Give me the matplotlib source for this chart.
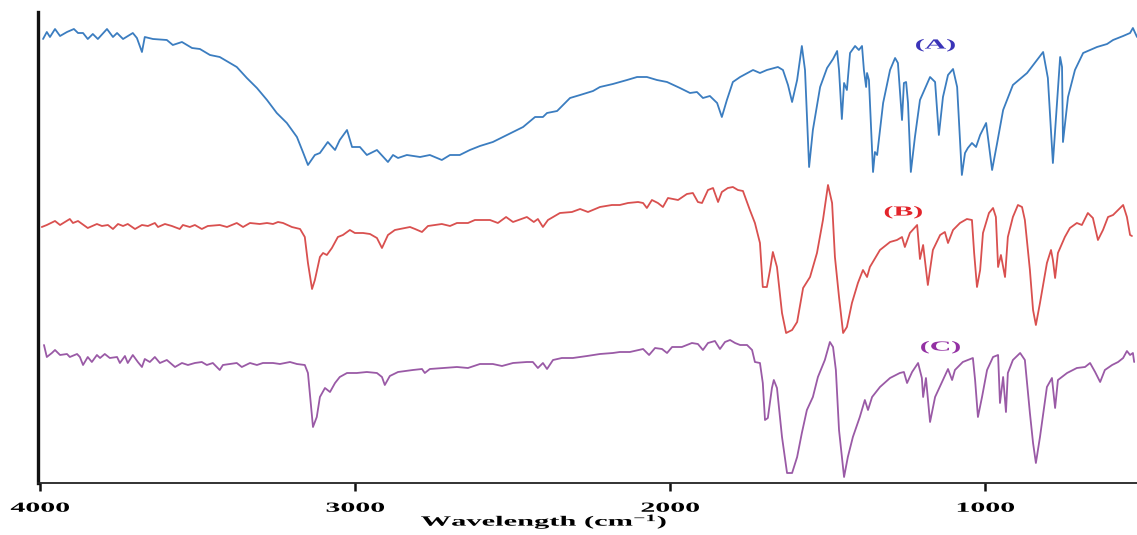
import matplotlib
matplotlib.use("Agg")
import matplotlib.pyplot as plt
from matplotlib.patheffects import AbstractPathEffect
from matplotlib.transforms import Affine2D

# ---------------- spectra (wavenumber in cm-1, transmittance in arbitrary units) ----------------
wn_a = [3990, 3978, 3968, 3952, 3936, 3914, 3892, 3879, 3863, 3848, 3832, 3816, 3787, 3768,
        3755, 3736, 3705, 3692, 3676, 3667, 3641, 3597, 3578, 3549, 3517, 3492, 3460, 3429,
        3397, 3375, 3343, 3311, 3279, 3248, 3216, 3184, 3165, 3149, 3127, 3111, 3086, 3063,
        3048, 3025, 3009, 2984, 2962, 2930, 2895, 2879, 2863, 2835, 2793, 2762, 2724, 2698,
        2667, 2635, 2603, 2562, 2517, 2466, 2428, 2403, 2390, 2358, 2317, 2285, 2244, 2222,
        2181, 2136, 2104, 2073, 2041, 2009, 1968, 1936, 1914, 1895, 1873, 1850, 1835, 1819,
        1800, 1777, 1736, 1714, 1692, 1657, 1641, 1625, 1612, 1596, 1581, 1571, 1558, 1546,
        1523, 1501, 1482, 1469, 1463, 1454, 1447, 1438, 1428, 1412, 1400, 1390, 1384, 1377,
        1374, 1368, 1355, 1349, 1342, 1323, 1301, 1285, 1276, 1263, 1257, 1250, 1244, 1235,
        1222, 1206, 1174, 1158, 1146, 1133, 1117, 1101, 1088, 1073, 1063, 1054, 1041, 1028,
        1015, 996, 977, 961, 942, 911, 866, 815, 800, 784, 771, 761, 755, 752, 736, 714, 688,
        666, 644, 612, 593, 561, 539, 530, 517]
t_a = [154, 161, 156, 164, 157, 161, 164, 160, 160, 154, 159, 154, 164, 156,
       160, 154, 160, 155, 141, 156, 154, 153, 148, 151, 145, 144, 138, 136,
       130, 126, 115, 105, 93, 80, 70, 56, 41, 28, 38, 40, 51, 43,
       53, 63, 46, 46, 38, 43, 31, 38, 35, 38, 36, 38, 33, 38,
       38, 43, 47, 51, 58, 66, 76, 76, 80, 82, 95, 98, 102, 106,
       109, 113, 116, 116, 113, 111, 105, 100, 101, 95, 97, 90, 76, 93,
       111, 116, 123, 120, 123, 126, 123, 108, 91, 113, 147, 123, 26, 63,
       106, 125, 134, 142, 123, 74, 110, 103, 140, 147, 143, 147, 123, 106,
       120, 113, 21, 41, 38, 90, 123, 135, 130, 73, 110, 111, 90, 21,
       56, 93, 116, 111, 58, 96, 118, 124, 106, 18, 40, 45, 50, 46,
       58, 70, 23, 50, 83, 108, 120, 141, 115, 30, 90, 136, 126, 51, 96, 123, 140,
       143, 146, 149, 153, 157, 160, 165, 156]

wn_b = [3994, 3978, 3952, 3936, 3905, 3895, 3879, 3848, 3819, 3803, 3784, 3768, 3752, 3736,
        3721, 3698, 3676, 3657, 3635, 3625, 3603, 3581, 3556, 3546, 3524, 3508, 3486, 3467,
        3429, 3406, 3375, 3355, 3333, 3302, 3279, 3260, 3244, 3228, 3200, 3174, 3159, 3149,
        3136, 3127, 3111, 3101, 3089, 3073, 3054, 3038, 3016, 3000, 2974, 2952, 2930, 2914,
        2895, 2873, 2825, 2809, 2787, 2768, 2724, 2698, 2676, 2641, 2619, 2571, 2546, 2520,
        2498, 2454, 2432, 2419, 2403, 2387, 2349, 2311, 2285, 2260, 2222, 2184, 2159, 2133,
        2101, 2085, 2073, 2057, 2038, 2022, 2006, 1974, 1946, 1927, 1911, 1898, 1879, 1863,
        1847, 1835, 1816, 1800, 1784, 1768, 1746, 1730, 1714, 1705, 1692, 1682, 1673, 1660,
        1644, 1631, 1612, 1596, 1577, 1555, 1533, 1514, 1498, 1485, 1476, 1463, 1450, 1438,
        1422, 1403, 1387, 1374, 1365, 1333, 1301, 1279, 1263, 1254, 1238, 1215, 1206, 1196,
        1181, 1165, 1142, 1127, 1117, 1101, 1079, 1057, 1041, 1034, 1025, 1015, 1006, 987,
        974, 965, 958, 949, 936, 927, 911, 895, 882, 873, 857, 847, 838, 825, 803, 790, 784,
        777, 768, 746, 730, 708, 692, 673, 657, 641, 625, 609, 593, 577, 561, 549, 539, 533]
t_b = [126, 128, 132, 128, 134, 130, 132, 125, 129, 127, 128, 124, 129, 127,
       129, 124, 128, 127, 130, 126, 129, 127, 124, 128, 126, 128, 124, 127,
       128, 126, 130, 126, 130, 129, 130, 129, 131, 130, 126, 124, 116, 90,
       64, 73, 96, 100, 98, 105, 116, 118, 123, 120, 120, 119, 115, 105,
       118, 123, 126, 124, 121, 127, 129, 127, 130, 130, 133, 133, 130, 136,
       131, 136, 131, 134, 126, 133, 140, 141, 144, 141, 146, 148, 148, 150,
       151, 150, 145, 153, 150, 146, 155, 153, 159, 160, 151, 150, 163, 165,
       151, 161, 165, 166, 163, 162, 143, 130, 110, 66, 66, 83, 101, 86,
       40, 20, 23, 31, 65, 76, 100, 133, 168, 150, 96, 56, 20, 26,
       50, 70, 83, 76, 86, 103, 111, 113, 116, 106, 120, 128, 94, 108,
       68, 103, 118, 121, 110, 123, 130, 134, 133, 100, 66, 83, 120, 140,
       145, 136, 86, 98, 76, 116, 136, 148, 146, 133, 83, 43, 28, 50, 90, 103, 93,
       75, 100, 116, 125, 130, 128, 140, 135, 113, 123, 136, 138, 143, 148, 136, 118, 117]

wn_c = [3987, 3978, 3962, 3952, 3936, 3914, 3905, 3882, 3873, 3863, 3848, 3835, 3819, 3809,
        3794, 3778, 3755, 3746, 3730, 3721, 3705, 3689, 3676, 3667, 3651, 3635, 3619, 3597,
        3571, 3549, 3530, 3508, 3486, 3470, 3451, 3429, 3419, 3397, 3375, 3359, 3333, 3311,
        3292, 3260, 3238, 3206, 3184, 3159, 3149, 3140, 3133, 3121, 3111, 3095, 3079, 3063,
        3048, 3025, 2994, 2962, 2930, 2914, 2905, 2889, 2863, 2816, 2787, 2778, 2762, 2720,
        2676, 2641, 2603, 2562, 2533, 2498, 2454, 2435, 2419, 2403, 2390, 2371, 2343, 2308,
        2263, 2222, 2181, 2159, 2127, 2085, 2066, 2047, 2025, 2009, 1993, 1962, 1930, 1911,
        1895, 1879, 1857, 1841, 1825, 1809, 1793, 1777, 1755, 1739, 1730, 1714, 1705, 1698,
        1689, 1676, 1670, 1660, 1644, 1628, 1612, 1596, 1581, 1565, 1546, 1530, 1508, 1492,
        1482, 1473, 1463, 1447, 1435, 1419, 1397, 1381, 1371, 1358, 1333, 1301, 1270, 1257,
        1247, 1231, 1212, 1200, 1196, 1187, 1174, 1158, 1133, 1117, 1104, 1095, 1070, 1038,
        1031, 1022, 1009, 993, 974, 958, 952, 942, 933, 927, 911, 888, 873, 857, 847, 838,
        825, 803, 787, 777, 768, 739, 708, 682, 666, 650, 634, 619, 596, 577, 561, 549, 539,
        530, 526]
t_c = [138, 126, 130, 133, 128, 129, 126, 129, 126, 118, 126, 121, 128, 125,
       129, 125, 126, 120, 127, 120, 128, 121, 116, 124, 121, 126, 120, 123,
       116, 120, 118, 120, 121, 118, 120, 113, 118, 119, 120, 116, 120, 118,
       120, 120, 119, 121, 119, 118, 110, 80, 56, 66, 86, 95, 91, 100,
       106, 110, 110, 111, 110, 106, 98, 107, 111, 113, 114, 110, 114, 115,
       116, 115, 119, 119, 117, 120, 121, 121, 115, 120, 114, 123, 125, 125,
       127, 129, 130, 131, 131, 134, 128, 135, 134, 130, 136, 136, 140, 139,
       133, 140, 142, 134, 141, 143, 140, 138, 138, 133, 121, 120, 100, 63,
       65, 95, 103, 95, 46, 10, 10, 26, 50, 73, 86, 106, 123, 141,
       136, 113, 53, 6, 26, 46, 66, 83, 73, 86, 96, 105, 110, 111,
       100, 111, 120, 105, 86, 105, 61, 86, 103, 114, 103, 113, 121, 125,
       103, 66, 86, 113, 126, 128, 80, 106, 71, 110, 123, 130, 123, 70, 40, 20,
       46, 96, 105, 75, 103, 110, 115, 116, 120, 111, 101, 113, 118, 121, 125, 132, 128,
       130, 121]

series = [
    ("(A)", wn_a, t_a, 290, "#3b7dc0", "#3a34b8", (1158, 438)),
    ("(B)", wn_b, t_b, 130, "#d9504f", "#e3242b", (1260, 271)),
    ("(C)", wn_c, t_c, 0, "#9a5aa6", "#9330a3", (1142, 136)),
]


class WideText(AbstractPathEffect):
    """Draw text glyphs widened horizontally about their own centre."""

    def __init__(self, sx=2.0):
        super().__init__()
        self.sx = sx

    def draw_path(self, renderer, gc, tpath, affine, rgbFace=None):
        v = tpath.vertices
        cx = 0.5 * (v[:, 0].min() + v[:, 0].max()) if len(v) else 0.0
        widen = Affine2D().translate(-cx, 0).scale(self.sx, 1.0).translate(cx, 0)
        renderer.draw_path(gc, tpath, widen + affine, rgbFace)


plt.rcParams["mathtext.fontset"] = "custom"
plt.rcParams["mathtext.rm"] = "Liberation Serif:bold"
plt.rcParams["mathtext.bf"] = "Liberation Serif:bold"
plt.rcParams["mathtext.it"] = "Liberation Serif:bold"

SX = 2.15
serif_bold = dict(family="Liberation Serif", weight="bold")

fig = plt.figure(figsize=(11.37, 5.35), dpi=100)
ax = fig.add_axes([38 / 1137, 52 / 535, 1099 / 1137, 471 / 535])

for label, wn, t, off, lc, tc, (lx, ly) in series:
    ax.plot(wn, [v + off for v in t], color=lc, lw=1.3,
            solid_joinstyle="round", solid_capstyle="round")
    ax.text(lx, ly, label, color=tc, fontsize=10, ha="center", va="center",
            path_effects=[WideText(SX)], **serif_bold)

ax.set_xlim(4006, 517)
ax.set_ylim(0, 471)

for side in ("top", "right"):
    ax.spines[side].set_visible(False)
ax.spines["left"].set_linewidth(2.4)
ax.spines["left"].set_color("#111111")
ax.spines["bottom"].set_linewidth(1.3)
ax.spines["bottom"].set_color("#222222")

ax.set_yticks([])
ax.set_xticks([4000, 3000, 2000, 1000])
ax.set_xticklabels(["4000", "3000", "2000", "1000"], fontsize=10,
                   path_effects=[WideText(SX)], **serif_bold)
ax.tick_params(axis="x", direction="out", length=5.5, width=1.8, pad=8, color="#111111")

ax.set_xlabel("Wavelength (cm$^{\\mathbf{-1}}$)", fontsize=10.2,
              path_effects=[WideText(SX)], **serif_bold)
ax.xaxis.set_label_coords((544 - 38) / 1099, -0.063)

fig.savefig("out.png", dpi=100)
